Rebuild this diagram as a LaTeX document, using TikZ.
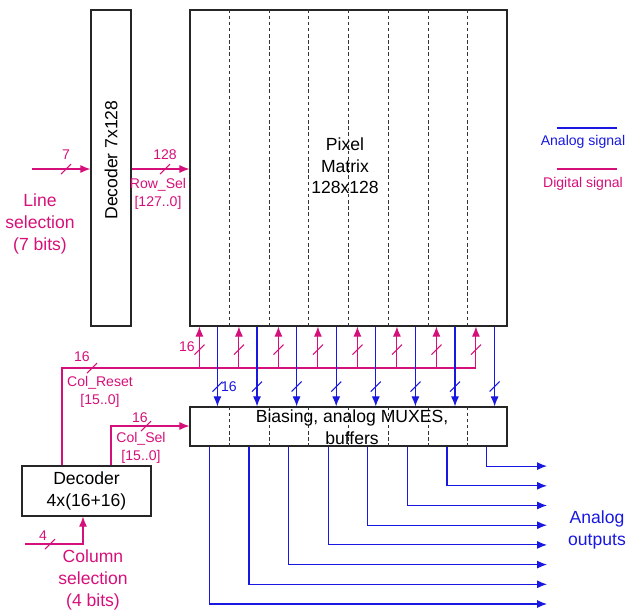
\documentclass[tikz,border=0pt]{standalone}
\usepackage{fontspec}
\setmainfont{Liberation Sans}
\usetikzlibrary{arrows.meta,positioning,calc}
\definecolor{DigPink}{RGB}{214,16,122}
\definecolor{AnaBlue}{RGB}{24,24,224}
\tikzset{
  blockbox/.style={draw=black!85,line width=0.7pt,inner sep=0pt},
  divider/.style={draw=black!80,dash pattern=on 2pt off 1.5pt,line width=0.5pt},
  digline/.style={draw=DigPink,line width=0.6pt},
  digarrow/.style={digline,-{Latex[length=2mm,width=1.6mm]}},
  analine/.style={draw=AnaBlue,line width=0.6pt},
  anaarrow/.style={analine,-{Latex[length=2mm,width=1.6mm]}},
  biglabel/.style={font=\fontsize{10}{12.3}\selectfont,align=center,inner sep=0pt},
  smalllabel/.style={font=\fontsize{8}{10.2}\selectfont,align=center,inner sep=0pt},
  busmark/.pic={\draw[line width=0.6pt] (-5,5) -- (5,-5);},
}
\begin{document}
\begin{tikzpicture}[x=0.02cm,y=-0.02cm]
  \useasboundingbox (0,0) rectangle (627,610);
  % blocks
  \node[blockbox,minimum width=0.8cm,minimum height=6.32cm] (dec7) at (111,168) {};
  \node[biglabel,rotate=90] (dec7txt) at (111,160) {Decoder 7x128};
  \node[blockbox,minimum width=6.34cm,minimum height=6.32cm] (pixm) at (348.5,168) {};
  \node[blockbox,minimum width=6.34cm,minimum height=0.78cm] (bias) at (348.5,426.5) {};
  \node[blockbox,biglabel,minimum width=2.58cm,minimum height=1cm] (dec4) at (86.5,491) {Decoder\\4x(16+16)};
  \foreach \i in {1,...,7}{
    \draw[divider] ($(pixm.north west)!\i/8!(pixm.north east)$) -- ($(pixm.south west)!\i/8!(pixm.south east)$);
    \draw[divider] ($(bias.north west)!\i/8!(bias.north east)$) -- ($(bias.south west)!\i/8!(bias.south east)$);
  }
  \node[biglabel] (pixtxt) at (345,166) {Pixel\\Matrix\\128x128};
  \node[biglabel] (biastxt) at (352,427) {Biasing, analog MUXES,\\buffers};

  % line selection
  \coordinate (linein) at (32,169);
  \draw[digarrow] (linein) -- (linein -| dec7.west);
  \pic[DigPink] at (66,169) {busmark};
  \node[smalllabel,text=DigPink] (linebits) at (66,155) {7};
  \node[biglabel,text=DigPink] (linesel) at (40,224) {Line\\selection\\(7 bits)};
  \draw[digarrow] (dec7.east |- linein) -- (pixm.west |- linein);
  \pic[DigPink] at (165,169) {busmark};
  \node[smalllabel,text=DigPink] (rowbits) at (165,155) {128};
  \node[smalllabel,text=DigPink] (rowsel) at (158,194) {Row\_Sel\\{[127..0]}};

  % column reset bus
  \coordinate (rstbus) at (62,368);
  \foreach \i in {0,...,7}{
    \coordinate (rst\i) at ($(pixm.south west)+(10+39.5*\i,0)$);
    \draw[digarrow] (rst\i |- rstbus) -- (rst\i);
    \pic[DigPink] at ($(rst\i)+(0,23)$) {busmark};
  }
  \draw[digline] (dec4.north -| rstbus) -- (rstbus) -- (rst7 |- rstbus);
  \pic[DigPink] at (92,368) {busmark};
  \node[smalllabel,text=DigPink] (rstbits) at (82,357) {16};
  \node[smalllabel,text=DigPink] (rstcol) at (187,347) {16};
  \node[smalllabel,text=DigPink] (rstlab) at (100,392) {Col\_Reset\\{[15..0]}};

  % analog columns
  \foreach \i in {0,...,7}{
    \coordinate (col\i) at ($(pixm.south west)+(28+39.6*\i,0)$);
    \draw[anaarrow] (col\i) -- (col\i |- bias.north);
    \pic[AnaBlue] at ($(col\i)+(0,60)$) {busmark};
  }
  \node[smalllabel,text=AnaBlue] (colbits) at (229,387) {16};

  % column select
  \coordinate (selbend) at (111,426);
  \draw[digarrow] (dec4.north -| selbend) -- (selbend) -- (bias.west |- selbend);
  \pic[DigPink] at (146,426) {busmark};
  \node[smalllabel,text=DigPink] (selbits) at (140,418) {16};
  \node[smalllabel,text=DigPink] (sellab) at (141,448) {Col\_Sel\\{[15..0]}};

  % column selection input
  \coordinate (colin) at (25,544);
  \draw[digarrow] (colin) -| ([xshift=-0.07cm]dec4.south);
  \pic[DigPink] at (50,544) {busmark};
  \node[smalllabel,text=DigPink] (colinbits) at (43,536) {4};
  \node[biglabel,text=DigPink] (colsel) at (93,580) {Column\\selection\\(4 bits)};

  % analog outputs
  \foreach \i in {0,...,7}{
    \coordinate (out\i) at (547,604-19.7*\i);
    \draw[anaarrow] ($(bias.south west)+(20+39.6*\i,0)$) |- (out\i);
  }
  \node[biglabel,text=AnaBlue] (anaout) at (597,530) {Analog\\outputs};

  % legend
  \coordinate (anaL) at (557,128);
  \coordinate (anaR) at (617,128);
  \draw[analine] (anaL) -- (anaR);
  \node[smalllabel,text=AnaBlue] (analab) at (583,142) {Analog signal};
  \coordinate (digL) at (557,169);
  \coordinate (digR) at (617,169);
  \draw[digline] (digL) -- (digR);
  \node[smalllabel,text=DigPink] (diglab) at (583,184) {Digital signal};
\end{tikzpicture}
\end{document}
